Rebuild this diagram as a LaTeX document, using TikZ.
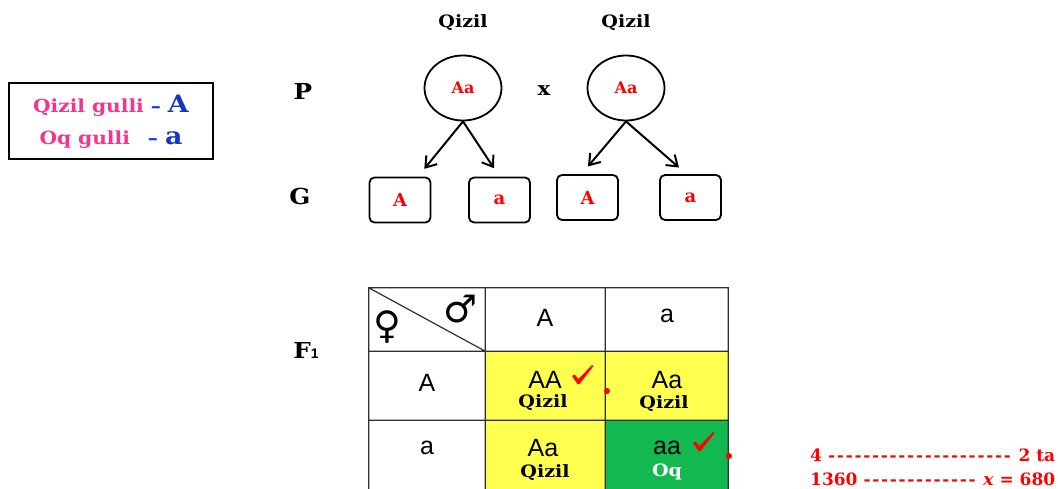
\documentclass[tikz,border=0pt]{standalone}
\usepackage{fontspec}
\setmainfont{DejaVu Serif}
\newfontfamily\widefont[FakeStretch=1.12]{DejaVu Serif}
\newfontfamily\tabfont{Liberation Sans}
\newfontfamily\symfont{DejaVu Sans}
\usetikzlibrary{shapes.geometric,arrows.meta}
\definecolor{pinktxt}{HTML}{F0368E}
\definecolor{bluetxt}{HTML}{1136C8}
\definecolor{redtxt}{HTML}{FF0000}
\definecolor{cellyellow}{HTML}{FFFF4F}
\definecolor{cellgreen}{HTML}{14B850}
\definecolor{gridline}{HTML}{303030}
\newcommand{\fsz}[1]{\fontsize{#1}{#1}\selectfont}
\begin{document}
\begin{tikzpicture}[x=1pt,y=-1pt,
  bold/.style={font=\widefont\bfseries\fsz{#1}},
  bold/.default=17,
  gen/.style={font=\bfseries\fsz{#1}, text=redtxt},
  parent/.style={ellipse, draw, line width=1.8pt, minimum width=77pt, minimum height=65pt, inner sep=0pt, gen=16},
  gamete/.style={rounded corners=5pt, draw, line width=1.8pt, minimum width=61pt, minimum height=45pt, inner sep=0pt, gen=18},
  split/.style={line width=2pt, -{Straight Barb[length=10pt,width=14pt,line width=2pt]}, shorten >=10pt},
  cell/.style={minimum width=#1, minimum height=69pt, inner sep=0pt},
  cell/.default=120pt,
  allele/.style={font=\tabfont\fsz{25}},
  pheno/.style={font=\widefont\bfseries\fsz{17}},
  marker/.style={circle, fill=redtxt, inner sep=0pt, minimum size=6pt},
  redtick/.pic={\fill[redtxt] (0,11) -- (2.5,9.5) -- (6.5,14) -- (20,0) -- (21.5,1) -- (7.5,19) -- (5.5,19) -- cycle;},
  sum/.style={anchor=west, inner sep=0pt, text=redtxt, font=\bfseries\fsz{17}}
]
\clip (0,0) rectangle (1058,489);
\fill[white] (0,0) rectangle (1058,489);

% legend
\node[draw, line width=2.8pt, minimum width=204pt, minimum height=76pt] (legend) at (111,121) {};
\node[inner sep=0pt, font=\widefont\bfseries\fsz{18}, text=pinktxt] (leg1) at (111,106)
  {Qizil gulli \textcolor{bluetxt}{\textendash\ {\fsz{24}A}}};
\node[inner sep=0pt, font=\widefont\bfseries\fsz{18}, text=pinktxt] (leg2) at (111,140)
  {Oq gulli\quad\textcolor{bluetxt}{\textendash\ {\fsz{24}a}}};

% generation labels
\node[bold=22] (lP) at (303,91) {P};
\node[bold=22] (lG) at (300,196) {G};
\node[font=\widefont\bfseries\fsz{22}] (lF) at (306,350) {F{\tabfont\fsz{14}1}};

% parents
\node[bold=17] (q1) at (463,23) {Qizil};
\node[bold=17] (q2) at (626,23) {Qizil};
\node[parent] (p1) at (463,88) {Aa};
\node[parent] (p2) at (626,88) {Aa};
\node[bold=19] (cross) at (544,91) {x};

% gametes
\node[gamete] (g1) at (400,200) {A};
\node[gamete] (g2) at (499.5,200) {a};
\node[gamete] (g3) at (587.5,197.5) {A};
\node[gamete] (g4) at (690.5,197.5) {a};

\draw[split] (p1.south) -- ([xshift=18pt]g1.north);
\draw[split] (p1.south) -- (g2.north);
\draw[split] (p2.south) -- ([xshift=-6pt]g3.north);
\draw[split] (p2.south) -- ([xshift=-4pt]g4.north);

% Punnett square
\node[cell=116pt, minimum height=63pt] (h0) at (427,319.5) {};
\node[cell, minimum height=63pt] (h1) at (545,319.5) {};
\node[cell=123pt, minimum height=63pt] (h2) at (666.5,319.5) {};
\node[cell=116pt] (r1) at (427,385.5) {};
\node[cell=116pt] (r2) at (427,454.5) {};
\node[cell, fill=cellyellow] (c11) at (545,385.5) {};
\node[cell=123pt, fill=cellyellow] (c12) at (666.5,385.5) {};
\node[cell, fill=cellyellow] (c21) at (545,454.5) {};
\node[cell=123pt, fill=cellgreen] (c22) at (666.5,454.5) {};

\draw[gridline, line width=1.2pt]
  (r2.south west) -- (h0.north west) -- (h2.north east) -- (c22.south east)
  (h0.south west) -- (h2.south east)
  (r1.south west) -- (c12.south east)
  (h0.north east) -- (r2.south east)
  (h1.north east) -- (c21.south east)
  (h0.north west) -- (h0.south east);

\node[font=\symfont\fsz{38}] (fem) at (387,327) {♀};
\node[font=\symfont\fsz{38}] (mal) at (461,309) {♂};

\node[allele] (tA) at (545,318) {A};
\node[allele] (ta) at (667,316) {a};
\node[allele] (lA) at (427,383) {A};
\node[allele] (la) at (427,448) {a};

\node[allele] (gAA) at (545,380) {AA};
\node[pheno] (f11) at (543,403) {Qizil};
\node[allele] (gAa1) at (667,380) {Aa};
\node[pheno] (f12) at (664,404) {Qizil};
\node[allele] (gAa2) at (543,448) {Aa};
\node[pheno] (f21) at (545,473) {Qizil};
\node[allele] (gaa) at (667,448) {aa};
\node[pheno, text=white] (f22) at (667,472) {Oq};

\pic at (572,365) {redtick};
\pic at (693,432) {redtick};
\node[marker] (m1) at (607,391) {};
\node[marker] (m2) at (729,456) {};

% proportion
\node[sum] (s1) at (810,455) {\hbox to 245pt{4\ \xleaders\hbox{-\kern1.5pt}\hfill\ 2 ta}};
\node[sum] (s2) at (810,479) {\hbox to 245pt{1360\ \xleaders\hbox{-\kern1.5pt}\hfill\ \textit{x} = 680}};
\end{tikzpicture}
\end{document}
